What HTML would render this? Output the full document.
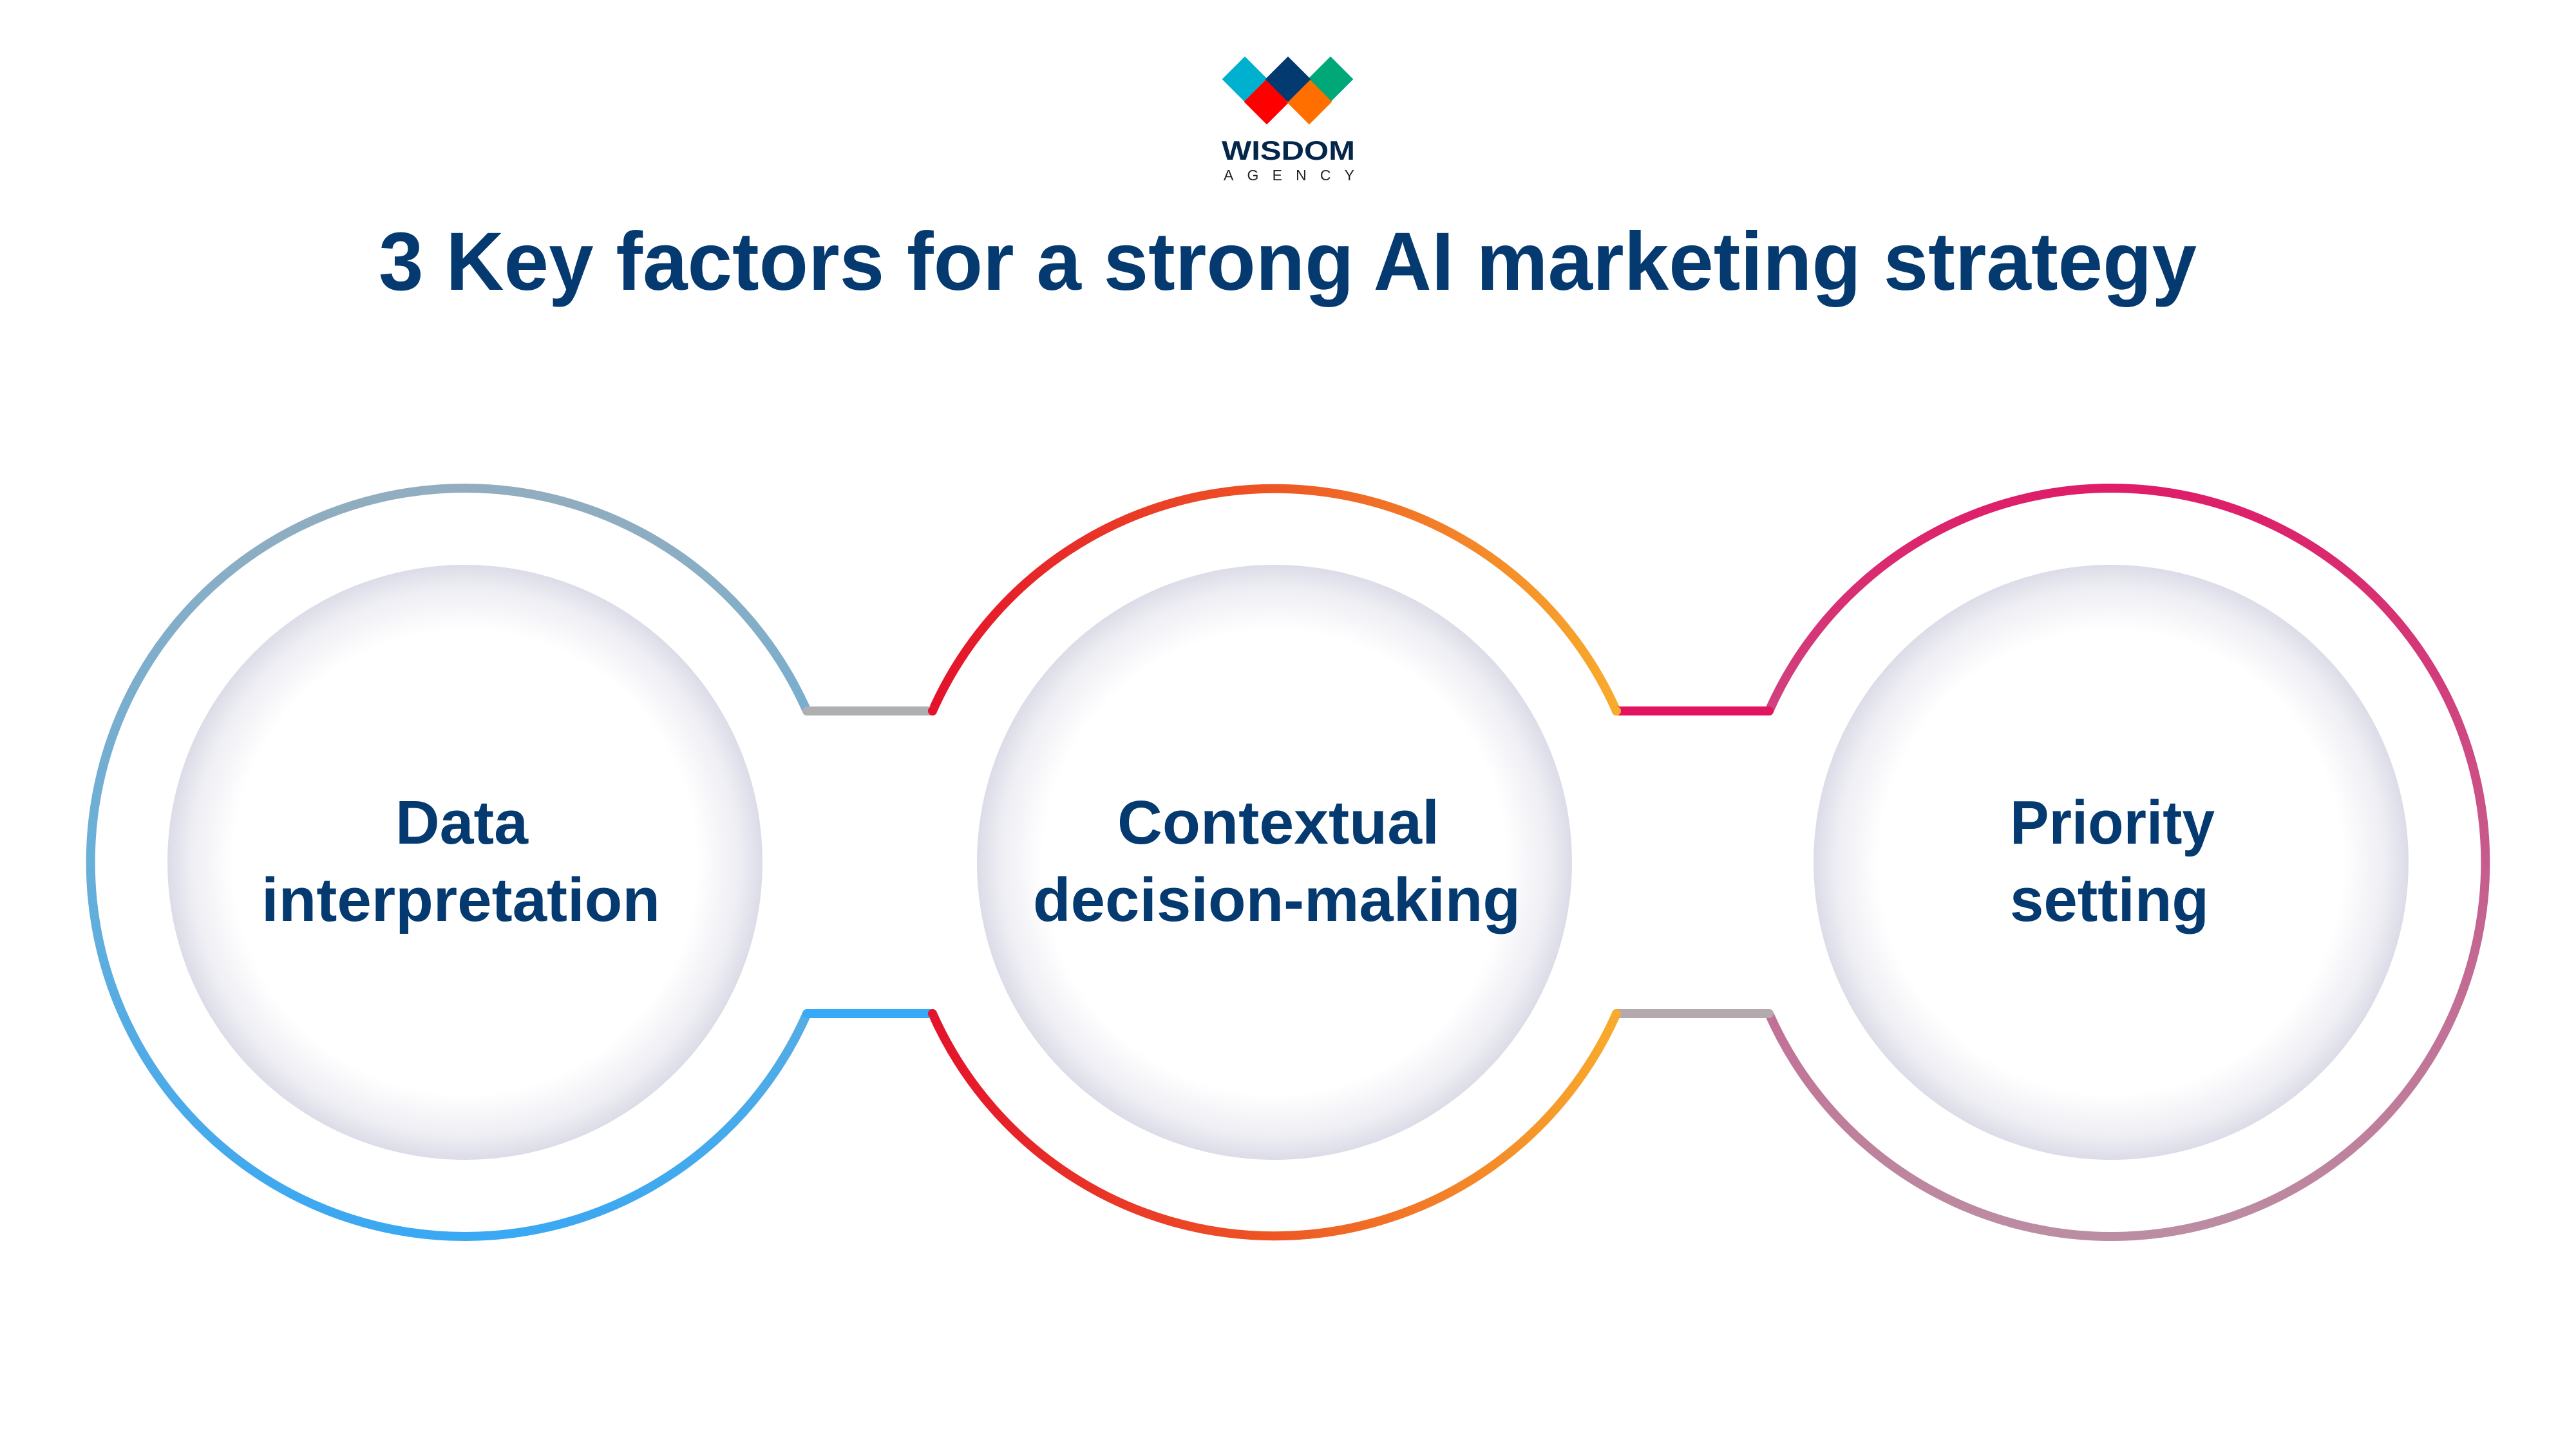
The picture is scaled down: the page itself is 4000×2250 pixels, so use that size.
<!DOCTYPE html>
<html><head><meta charset="utf-8"><style>
html,body{margin:0;padding:0;background:#fff;}
svg{display:block;}
text{font-family:"Liberation Sans",sans-serif;font-weight:bold;fill:#053a70;}
</style></head><body>
<svg width="4000" height="2250" viewBox="0 0 4000 2250" xmlns="http://www.w3.org/2000/svg">
<defs>
<radialGradient id="inner" cx="50%" cy="50%" r="50%">
<stop offset="0" stop-color="#ffffff"/>
<stop offset="0.78" stop-color="#ffffff"/>
<stop offset="0.92" stop-color="#eeeef4"/>
<stop offset="1" stop-color="#dcdce8"/>
</radialGradient>
<linearGradient id="g1" x1="0" y1="758" x2="0" y2="1920" gradientUnits="userSpaceOnUse">
<stop offset="0" stop-color="#92adbf"/>
<stop offset="0.5" stop-color="#68afd9"/>
<stop offset="1" stop-color="#3aa8f2"/>
</linearGradient>
<linearGradient id="g2" x1="1448" y1="0" x2="2510" y2="0" gradientUnits="userSpaceOnUse">
<stop offset="0" stop-color="#e4132a"/>
<stop offset="0.5" stop-color="#ee5624"/>
<stop offset="1" stop-color="#f8ab2c"/>
</linearGradient>
<linearGradient id="g3" x1="0" y1="758" x2="0" y2="1920" gradientUnits="userSpaceOnUse">
<stop offset="0" stop-color="#df1d68"/>
<stop offset="0.5" stop-color="#c65c8d"/>
<stop offset="1" stop-color="#bb8da2"/>
</linearGradient>
</defs>

<!-- logo -->
<rect x="1908" y="98" width="50" height="50" fill="#00b1cf" transform="rotate(45 1933 123)"/>
<rect x="2041" y="98" width="50" height="50" fill="#00a878" transform="rotate(45 2066 123)"/>
<rect x="1942" y="133" width="50" height="50" fill="#ff0000" transform="rotate(45 1967 158)"/>
<rect x="2008" y="133" width="50" height="50" fill="#ff6f00" transform="rotate(45 2033 158)"/>
<rect x="1975" y="98" width="50" height="50" fill="#033a70" transform="rotate(45 2000 123)"/>
<text x="1897" y="248" font-size="42" textLength="207" lengthAdjust="spacingAndGlyphs" style="fill:#04264a">WISDOM</text>
<text x="1900" y="280" font-size="23" textLength="203" lengthAdjust="spacing" style="font-weight:normal;fill:#222">AGENCY</text>

<text x="588" y="450" font-size="128" textLength="2823" lengthAdjust="spacingAndGlyphs">3 Key factors for a strong AI marketing strategy</text>

<!-- inner circles -->
<circle cx="722" cy="1339" r="462" fill="url(#inner)"/>
<circle cx="1979" cy="1339" r="462" fill="url(#inner)"/>
<circle cx="3278" cy="1339" r="462" fill="url(#inner)"/>

<g fill="none" stroke-width="14" stroke-linecap="round">
<path d="M1253 1104 A581 581 0 1 0 1253 1574" stroke="url(#g1)"/>
<path d="M1448 1104 A581 581 0 0 1 2510 1104" stroke="url(#g2)"/>
<path d="M1448 1574 A581 581 0 0 0 2510 1574" stroke="url(#g2)"/>
<path d="M2747 1104 A581 581 0 1 1 2747 1574" stroke="url(#g3)"/>
<line x1="1253" y1="1104" x2="1448" y2="1104" stroke="#adafb1"/>
<line x1="1253" y1="1574" x2="1448" y2="1574" stroke="#36a9f7"/>
<line x1="2510" y1="1104" x2="2747" y2="1104" stroke="#e3145f"/>
<line x1="2510" y1="1574" x2="2747" y2="1574" stroke="#b4a9ad"/>
<circle cx="1448" cy="1104" r="7" fill="#e4132a" stroke="none"/>
<circle cx="1448" cy="1574" r="7" fill="#e4132a" stroke="none"/>
<circle cx="2510" cy="1104" r="7" fill="#f8ab2c" stroke="none"/>
<circle cx="2510" cy="1574" r="7" fill="#f8ab2c" stroke="none"/>
</g>

<text x="614" y="1310" font-size="96" textLength="206" lengthAdjust="spacingAndGlyphs">Data</text>
<text x="406" y="1430" font-size="96" textLength="619" lengthAdjust="spacingAndGlyphs">interpretation</text>
<text x="1735" y="1310" font-size="96" textLength="500" lengthAdjust="spacingAndGlyphs">Contextual</text>
<text x="1604" y="1430" font-size="96" textLength="757" lengthAdjust="spacingAndGlyphs">decision-making</text>
<text x="3121" y="1310" font-size="96" textLength="318" lengthAdjust="spacingAndGlyphs">Priority</text>
<text x="3121" y="1430" font-size="96" textLength="309" lengthAdjust="spacingAndGlyphs">setting</text>
</svg>
</body></html>
